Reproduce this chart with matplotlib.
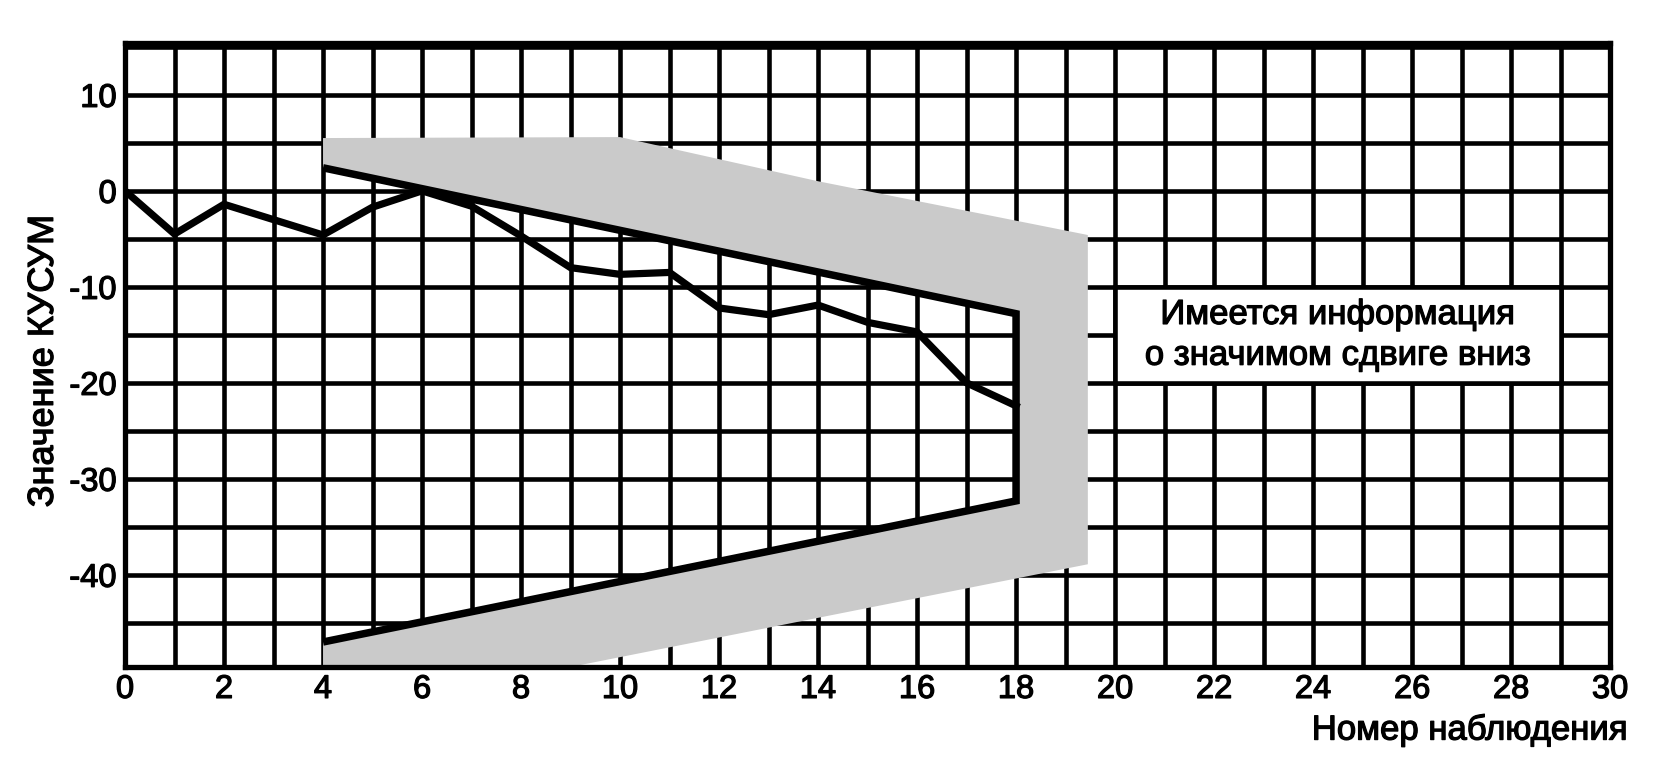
import matplotlib
matplotlib.use("Agg")
import matplotlib.pyplot as plt
import matplotlib.patheffects as pe
from matplotlib.patches import Rectangle
import numpy as np
from matplotlib.ticker import MultipleLocator

plt.rcParams['font.family'] = ['Liberation Sans', 'DejaVu Sans']
plt.rcParams['axes.unicode_minus'] = False

# cusum values per observation
obs = np.arange(0, 19)
cusum = [0.0, -4.5, -1.4, -3.0, -4.6, -1.7, 0.0, -1.6, -4.7, -8.0,
         -8.7, -8.5, -12.2, -12.9, -11.9, -13.7, -14.7, -20.0, -22.4]

# V-mask outline (upper arm, vertical at last obs, lower arm)
mask_x = [4, 18, 18, 4]
mask_y = [2.4, -12.8, -32.3, -47.0]

# outer edge of the shaded band around the mask
band_x = [4, 10, 12, 14, 19.45, 19.45, 9.0, 4]
band_y = [5.5, 5.6, 3.3, 1.0, -4.6, -38.9, -49.6, -49.6]

label_x = 'Номер наблюдения'
label_y = 'Значение КУСУМ'
note = 'Имеется информация\nо значимом сдвиге вниз'

# heavier text, the scan looks a bit bold
thick = [pe.withStroke(linewidth=0.9, foreground='black')]

fig = plt.figure(figsize=(16.58, 7.75), dpi=100)
ax = fig.add_axes([0.0754, 0.1394, 0.8957, 0.8051])

ax.set_xlim(0, 30)
ax.set_ylim(-49.6, 15.4)
ax.xaxis.set_major_locator(MultipleLocator(2))
ax.xaxis.set_minor_locator(MultipleLocator(1))
ax.yaxis.set_major_locator(MultipleLocator(10))
ax.yaxis.set_minor_locator(MultipleLocator(5))
ax.set_axisbelow(True)
ax.grid(which='both', color='black', linewidth=3.3)
ax.tick_params(which='both', length=0, labelsize=23.5)
ax.tick_params(axis='x', pad=5)
ax.tick_params(axis='y', pad=6)
for lab in ax.get_xticklabels() + ax.get_yticklabels():
    lab.set_path_effects(thick)
for s in ax.spines.values():
    s.set_linewidth(3.8)

# shaded band: outer edge then the mask back to start
poly_x = np.concatenate([band_x, mask_x[::-1]])
poly_y = np.concatenate([band_y, mask_y[::-1]])
ax.fill(poly_x, poly_y, color='#cacaca', linewidth=0, zorder=1)

ax.plot(mask_x, mask_y, color='black', linewidth=5.4,
        solid_joinstyle='miter', solid_capstyle='butt', zorder=3)
ax.plot(obs, cusum, color='black', linewidth=5.2,
        solid_joinstyle='miter', zorder=4)

# white cell block behind the note
ax.add_patch(Rectangle((20, -20), 9, 10, facecolor='white',
                       edgecolor='black', linewidth=3.3, zorder=2))
ax.text(24.5, -15.0, note, ha='center', va='center', fontsize=25,
        linespacing=1.3, zorder=5, path_effects=thick)

ax.set_xlabel(label_x, fontsize=25, ha='right', va='center',
              path_effects=thick)
ax.xaxis.set_label_coords(1.012, -0.101)
ax.set_ylabel(label_y, fontsize=26, va='center', path_effects=thick)
ax.yaxis.set_label_coords(-0.055, 0.49)

fig.savefig('out.png', dpi=100)
